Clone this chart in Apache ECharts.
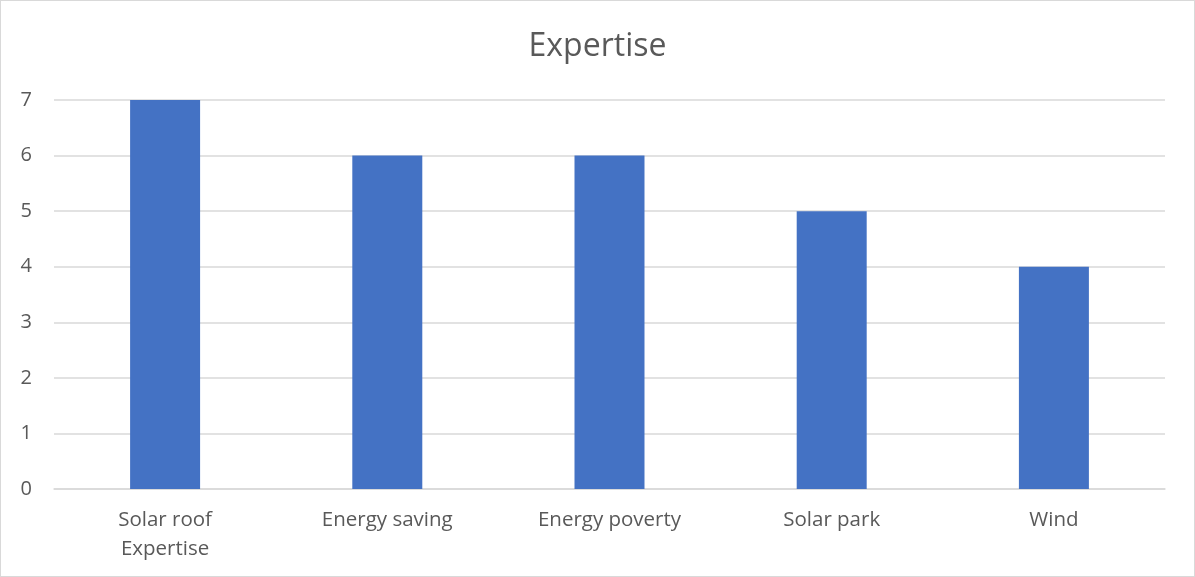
<!DOCTYPE html>
<html>
<head>
<meta charset="utf-8">
<script src="https://cdn.jsdelivr.net/npm/echarts@6/dist/echarts.min.js"></script>
<style>
  html, body { margin: 0; padding: 0; background: #fff; }
  #chart { width: 1195px; height: 577px; box-sizing: border-box; border: 1.5px solid #d9d9d9; }
</style>
</head>
<body>
<div id="chart"></div>
<script>
// Expertise counts per topic
const categories = ['Solar roof\nExpertise', 'Energy saving', 'Energy poverty', 'Solar park', 'Wind'];
const values = [7, 6, 6, 5, 4];
const chartTitle = 'Expertise';

const textColor = '#595959';
const fontFamily = '"Open Sans", "Noto Sans", sans-serif';

const chart = echarts.init(document.getElementById('chart'), null, { renderer: 'canvas' });
chart.setOption({
  animation: false,
  title: {
    text: chartTitle,
    left: 'center',
    top: 25,
    textStyle: { color: textColor, fontSize: 32, fontWeight: 'normal', fontFamily: fontFamily }
  },
  grid: { left: 53, right: 29, top: 99, bottom: 87 },
  xAxis: {
    type: 'category',
    data: categories,
    axisLine: { show: true, lineStyle: { color: '#d9d9d9', width: 1.5 } },
    axisTick: { show: false },
    axisLabel: {
      color: textColor, fontSize: 20.5, fontFamily: fontFamily,
      margin: 17, lineHeight: 29, interval: 0
    }
  },
  yAxis: {
    type: 'value',
    min: 0, max: 7, interval: 1,
    axisLine: { show: false },
    axisTick: { show: false },
    splitLine: { lineStyle: { color: '#d9d9d9', width: 1.5 } },
    axisLabel: { color: textColor, fontSize: 20, fontFamily: fontFamily, margin: 22 }
  },
  series: [{
    type: 'bar',
    data: values,
    barWidth: '31.5%',
    itemStyle: { color: '#4472C4' }
  }]
});
</script>
</body>
</html>
